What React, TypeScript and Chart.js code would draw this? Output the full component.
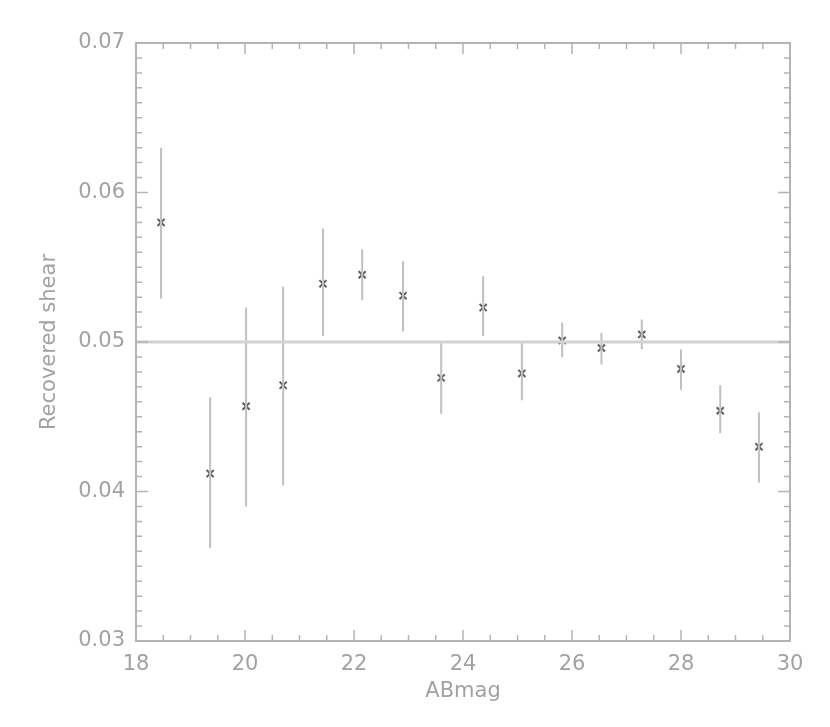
import { useEffect, useRef } from "react";
import { Chart, registerables } from "chart.js";

Chart.register(...registerables);

const magnitudes = [18.46, 19.36, 20.02, 20.7, 21.43, 22.15, 22.9, 23.6, 24.37, 25.08, 25.82, 26.54, 27.28, 28.0, 28.72, 29.43];
const shear = [0.058, 0.0412, 0.0457, 0.0471, 0.0539, 0.0545, 0.0531, 0.0476, 0.0523, 0.0479, 0.0501, 0.0496, 0.0505, 0.0482, 0.0454, 0.043];
const errHigh = [0.063, 0.0463, 0.0523, 0.0537, 0.0576, 0.0562, 0.0554, 0.05, 0.0544, 0.05, 0.0513, 0.0506, 0.0515, 0.0495, 0.0471, 0.0453];
const errLow = [0.0529, 0.0362, 0.039, 0.0404, 0.0504, 0.0528, 0.0507, 0.0452, 0.0504, 0.0461, 0.049, 0.0485, 0.0495, 0.0468, 0.0439, 0.0406];
const trueShear = 0.05;
const xRange = [18, 30];
const yRange = [0.03, 0.07];
const xMajorStep = 2;
const xMinorStep = 0.5;
const yMajorStep = 0.01;
const yMinorStep = 0.001;

const AXIS_COLOR = "#b4b4b4";
const TEXT_COLOR = "#a2a2a2";
const FONT = "'DejaVu Sans', sans-serif";

const framePlugin = {
  id: "idlFrame",
  afterDatasetsDraw(chart: any) {
    const { ctx, chartArea } = chart;
    const xs = chart.scales.x;
    const ys = chart.scales.y;
    const { left, right, top, bottom } = chartArea;
    ctx.save();
    ctx.strokeStyle = AXIS_COLOR;
    ctx.lineWidth = 2;
    ctx.strokeRect(left, top, right - left, bottom - top);
    ctx.lineWidth = 1.5;
    ctx.beginPath();
    const nx = Math.round((xRange[1] - xRange[0]) / xMinorStep);
    for (let i = 0; i <= nx; i++) {
      const v = xRange[0] + i * xMinorStep;
      const major = Math.abs(v / xMajorStep - Math.round(v / xMajorStep)) < 1e-6;
      const len = major ? 11 : 6;
      const px = xs.getPixelForValue(v);
      ctx.moveTo(px, bottom);
      ctx.lineTo(px, bottom - len);
      ctx.moveTo(px, top);
      ctx.lineTo(px, top + len);
    }
    const ny = Math.round((yRange[1] - yRange[0]) / yMinorStep);
    for (let i = 0; i <= ny; i++) {
      const len = i % 10 === 0 ? 12 : 6;
      const v = yRange[0] + i * yMinorStep;
      const py = ys.getPixelForValue(v);
      ctx.moveTo(left, py);
      ctx.lineTo(left + len, py);
      ctx.moveTo(right, py);
      ctx.lineTo(right - len, py);
    }
    ctx.stroke();
    ctx.restore();
  },
};

export default function App() {
  const ref = useRef<HTMLCanvasElement | null>(null);

  useEffect(() => {
    if (!ref.current) return;
    const errData: any[] = [];
    magnitudes.forEach((m, i) => {
      errData.push({ x: m, y: errLow[i] });
      errData.push({ x: m, y: errHigh[i] });
      errData.push({ x: m, y: null });
    });
    const chart = new Chart(ref.current, {
      type: "scatter",
      data: {
        datasets: [
          {
            type: "line",
            label: "true",
            data: [
              { x: xRange[0], y: trueShear },
              { x: xRange[1], y: trueShear },
            ],
            borderColor: "#d2d2d2",
            borderWidth: 3,
            pointRadius: 0,
            fill: false,
          },
          {
            type: "line",
            label: "errors",
            data: errData,
            borderColor: "#c0c0c0",
            borderWidth: 2,
            pointRadius: 0,
            spanGaps: false,
            fill: false,
          },
          {
            label: "shear",
            data: magnitudes.map((m, i) => ({ x: m, y: shear[i] })),
            pointStyle: "crossRot",
            pointRadius: 5,
            borderColor: "#5e5e5e",
            borderWidth: 2,
            backgroundColor: "#5e5e5e",
          },
        ],
      },
      options: {
        animation: false,
        responsive: false,
        layout: { padding: { top: 43, right: 40, left: 0, bottom: 0 } },
        plugins: { legend: { display: false }, tooltip: { enabled: false } },
        scales: {
          x: {
            type: "linear",
            min: xRange[0],
            max: xRange[1],
            grid: { display: false, drawTicks: false },
            border: { display: false },
            ticks: {
              stepSize: xMajorStep,
              padding: 11,
              color: TEXT_COLOR,
              font: { family: FONT, size: 21 },
              maxRotation: 0,
            },
            title: {
              display: true,
              text: "ABmag",
              color: TEXT_COLOR,
              font: { family: FONT, size: 21 },
              padding: { top: 0, bottom: 23 },
            },
            afterFit(scale: any) {
              scale.height = 86;
            },
          },
          y: {
            type: "linear",
            min: yRange[0],
            max: yRange[1],
            grid: { display: false, drawTicks: false },
            border: { display: false },
            ticks: {
              stepSize: yMajorStep,
              padding: 11,
              color: TEXT_COLOR,
              font: { family: FONT, size: 21 },
              callback: (v: any) => Number(v).toFixed(2),
            },
            title: {
              display: true,
              text: "Recovered shear",
              color: TEXT_COLOR,
              font: { family: FONT, size: 21 },
              padding: { top: 37, bottom: 0 },
            },
            afterFit(scale: any) {
              scale.width = 136;
            },
          },
        },
      },
      plugins: [framePlugin],
    });
    return () => chart.destroy();
  }, []);

  return (
    <div style={{ position: "fixed", left: 0, top: 0, width: 830, height: 727, background: "#fff" }}>
      <canvas ref={ref} width={830} height={727} />
    </div>
  );
}
